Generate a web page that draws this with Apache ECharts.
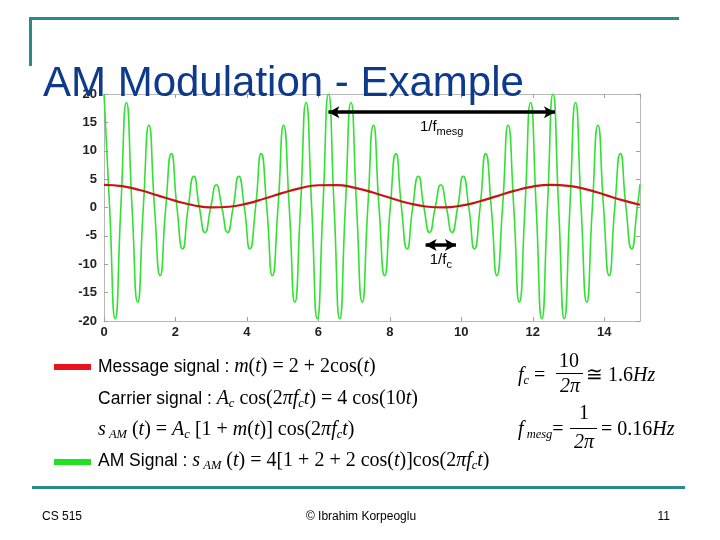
<!DOCTYPE html>
<html>
<head>
<meta charset="utf-8">
<script src="https://cdn.jsdelivr.net/npm/echarts@6.0.0/dist/echarts.min.js"></script>
<style>
  html, body { margin: 0; padding: 0; background: #fff; }
  #main { width: 720px; height: 540px; }
</style>
</head>
<body>
<div id="main"></div>
<script>
// time samples for the AM signal (peaks and zero crossings of the carrier)
var tGreen = [0, 0.157, 0.314, 0.471, 0.628, 0.785, 0.942, 1.100, 1.257, 1.414,
  1.571, 1.728, 1.885, 2.042, 2.199, 2.356, 2.513, 2.670, 2.827, 2.985,
  3.142, 3.299, 3.456, 3.613, 3.770, 3.927, 4.084, 4.241, 4.398, 4.555,
  4.712, 4.869, 5.027, 5.184, 5.341, 5.498, 5.655, 5.812, 5.969, 6.126,
  6.283, 6.440, 6.597, 6.754, 6.912, 7.069, 7.226, 7.383, 7.540, 7.697,
  7.854, 8.011, 8.168, 8.325, 8.482, 8.639, 8.796, 8.954, 9.111, 9.268,
  9.425, 9.582, 9.739, 9.896, 10.053, 10.210, 10.367, 10.524, 10.681, 10.838,
  10.996, 11.153, 11.310, 11.467, 11.624, 11.781, 11.938, 12.095, 12.252, 12.409,
  12.566, 12.723, 12.881, 13.038, 13.195, 13.352, 13.509, 13.666, 13.823, 13.980,
  14.137, 14.294, 14.451, 14.608, 14.765, 14.923, 15];
var yGreen = [20, 0, -19.6, 0, 18.5, 0, -16.7, 0, 14.5, 0,
  -12, 0, 9.5, 0, -7.3, 0, 5.5, 0, -4.4, 0,
  4, 0, -4.4, 0, 5.5, 0, -7.3, 0, 9.5, 0,
  -12, 0, 14.5, 0, -16.7, 0, 18.5, 0, -19.6, 0,
  20, 0, -19.6, 0, 18.5, 0, -16.7, 0, 14.5, 0,
  -12, 0, 9.5, 0, -7.3, 0, 5.5, 0, -4.4, 0,
  4, 0, -4.4, 0, 5.5, 0, -7.3, 0, 9.5, 0,
  -12, 0, 14.5, 0, -16.7, 0, 18.5, 0, -19.6, 0,
  20, 0, -19.6, 0, 18.5, 0, -16.7, 0, 14.5, 0,
  -12, 0, 9.5, 0, -7.3, 0, 4.1];

// message signal
var tRed = [0, 0.5, 1, 1.5, 2, 2.5, 3, 3.5, 4, 4.5, 5, 5.5, 6, 6.5, 7, 7.5,
  8, 8.5, 9, 9.5, 10, 10.5, 11, 11.5, 12, 12.5, 13, 13.5, 14, 14.5, 15];
var yRed = [4, 3.76, 3.08, 2.14, 1.17, 0.4, 0.02, 0.13, 0.69, 1.58, 2.57, 3.42, 3.92, 3.95, 3.51, 2.69,
  1.71, 0.8, 0.18, 0.01, 0.32, 1.05, 2.01, 2.97, 3.69, 4, 3.81, 3.19, 2.27, 1.29, 0.48];

// period arrows
var mesgArrow = [[6.28, 16.8], [12.62, 16.8]];
var carrierArrow = [[9.0, -6.6], [9.85, -6.6]];

var xTicks = { min: 0, max: 15, interval: 2 };
var yTicks = { min: -20, max: 20, interval: 5 };

function zip(a, b) {
  var out = [];
  for (var i = 0; i < a.length; i++) out.push([a[i], b[i]]);
  return out;
}

var teal = '#2b8b8b';
var sans = 'Liberation Sans, Arial, sans-serif';
var serif = 'Liberation Serif, Times New Roman, serif';

var mathRich = {
  s: { fontFamily: sans, fontSize: 17.5, color: '#000', lineHeight: 24 },
  i: { fontFamily: serif, fontStyle: 'italic', fontSize: 20, color: '#000', lineHeight: 24 },
  r: { fontFamily: serif, fontSize: 20, color: '#000', lineHeight: 24 },
  sub: { fontFamily: serif, fontStyle: 'italic', fontSize: 12.5, color: '#000', lineHeight: 14, padding: [10, 0, 0, 0] }
};

function mathText(x, y, text) {
  return {
    type: 'text', x: x, y: y, z: 100,
    style: { text: text, rich: mathRich, verticalAlign: 'middle', align: 'left' }
  };
}

var axisLineStyle = { color: '#b8b8b8', width: 1 };
var tickStyle = { color: '#a0a0a0', width: 1 };
var labelStyle = { fontFamily: sans, fontWeight: 'bold', fontSize: 13, color: '#222' };

var myChart = echarts.init(document.getElementById('main'));
myChart.setOption({
  backgroundColor: '#fff',
  animation: false,
  grid: { left: 104, top: 94, width: 536, height: 227 },
  xAxis: [{
    type: 'value', min: xTicks.min, max: xTicks.max, interval: xTicks.interval,
    position: 'bottom',
    axisLine: { onZero: false, lineStyle: axisLineStyle },
    axisTick: { inside: true, length: 4, lineStyle: tickStyle },
    axisLabel: Object.assign({ margin: 5, showMaxLabel: false }, labelStyle),
    splitLine: { show: false }
  }, {
    type: 'value', min: xTicks.min, max: xTicks.max, interval: xTicks.interval,
    position: 'top',
    axisLine: { onZero: false, lineStyle: axisLineStyle },
    axisTick: { inside: true, length: 4, lineStyle: tickStyle },
    axisLabel: { show: false },
    splitLine: { show: false }
  }],
  yAxis: [{
    type: 'value', min: yTicks.min, max: yTicks.max, interval: yTicks.interval,
    position: 'left',
    axisLine: { show: true, onZero: false, lineStyle: axisLineStyle },
    axisTick: { show: true, inside: true, length: 4, lineStyle: tickStyle },
    axisLabel: Object.assign({ margin: 7 }, labelStyle),
    splitLine: { show: false }
  }, {
    type: 'value', min: yTicks.min, max: yTicks.max, interval: yTicks.interval,
    position: 'right',
    axisLine: { show: true, onZero: false, lineStyle: axisLineStyle },
    axisTick: { show: true, inside: true, length: 4, lineStyle: tickStyle },
    axisLabel: { show: false },
    splitLine: { show: false }
  }],
  series: [{
    name: 'AM Signal',
    type: 'line',
    data: zip(tGreen, yGreen),
    smooth: 0.6,
    showSymbol: false,
    symbol: 'none',
    lineStyle: { color: '#33e033', width: 1.6 },
    silent: true
  }, {
    name: 'Message signal',
    type: 'line',
    data: zip(tRed, yRed),
    smooth: true,
    showSymbol: false,
    symbol: 'none',
    lineStyle: { color: '#c81414', width: 2.2 },
    silent: true,
    markLine: {
      silent: true,
      symbol: ['arrow', 'arrow'],
      symbolSize: [9, 11],
      lineStyle: { color: '#000', width: 3.5, type: 'solid' },
      data: [
        [{ coord: mesgArrow[0],
           label: { show: true, position: 'insideMiddleBottom', distance: 4,
             formatter: '{a|1/f}{b|mesg}',
             rich: {
               a: { fontFamily: sans, fontSize: 15, color: '#000', lineHeight: 22 },
               b: { fontFamily: sans, fontSize: 11, color: '#000', lineHeight: 12, padding: [10, 0, 0, 0] }
             } } },
         { coord: mesgArrow[1] }],
        [{ coord: carrierArrow[0],
           label: { show: true, position: 'insideMiddleBottom', distance: 4,
             formatter: '{a|1/f}{b|c}',
             rich: {
               a: { fontFamily: sans, fontSize: 15, color: '#000', lineHeight: 22 },
               b: { fontFamily: sans, fontSize: 11, color: '#000', lineHeight: 12, padding: [10, 0, 0, 0] }
             } } },
         { coord: carrierArrow[1] }]
      ]
    }
  }],
  graphic: [
    // slide frame
    { type: 'rect', z: 90, shape: { x: 29, y: 17, width: 650, height: 3 }, style: { fill: teal } },
    { type: 'rect', z: 90, shape: { x: 29, y: 17, width: 3, height: 49 }, style: { fill: teal } },
    { type: 'rect', z: 90, shape: { x: 32, y: 486, width: 653, height: 3 }, style: { fill: teal } },
    // title
    { type: 'text', x: 43, y: 84, z: 100,
      style: { text: 'AM Modulation - Example', font: 'normal 42px ' + sans, fill: '#0e3a8c', verticalAlign: 'middle' } },
    // legend swatches
    { type: 'rect', z: 100, shape: { x: 54, y: 364, width: 37, height: 6 }, style: { fill: '#e8141b' } },
    { type: 'rect', z: 100, shape: { x: 54, y: 459, width: 37, height: 6 }, style: { fill: '#22e022' } },
    // formulas
    mathText(98, 367, '{s|Message signal : }{i|m}{r|(}{i|t}{r|) = 2 + 2cos(}{i|t}{r|)}'),
    mathText(98, 399, '{s|Carrier signal : }{i|A}{sub|c}{r| cos(2}{i|πf}{sub|c}{i|t}{r|) = 4 cos(10}{i|t}{r|)}'),
    mathText(98, 430, '{i|s}{sub| AM}{r| (}{i|t}{r|) = }{i|A}{sub|c}{r| [1 + }{i|m}{r|(}{i|t}{r|)] cos(2}{i|πf}{sub|c}{i|t}{r|)}'),
    mathText(98, 461, '{s|AM Signal : }{i|s}{sub| AM}{r| (}{i|t}{r|) = 4[1 + 2 + 2 cos(}{i|t}{r|)]cos(2}{i|πf}{sub|c}{i|t}{r|)}'),
    // f_c
    mathText(518, 376, '{i|f}{sub|c}{r| =}'),
    { type: 'text', x: 569, y: 362, z: 100, style: { text: '10', font: '20px ' + serif, fill: '#000', align: 'center', verticalAlign: 'middle' } },
    { type: 'rect', z: 100, shape: { x: 556, y: 373, width: 27, height: 1 }, style: { fill: '#000' } },
    { type: 'text', x: 570, y: 387, z: 100, style: { text: '2π', font: 'italic 20px ' + serif, fill: '#000', align: 'center', verticalAlign: 'middle' } },
    mathText(586, 376, '{r|≅ 1.6}{i|Hz}'),
    // f_mesg
    mathText(518, 430, '{i|f}{sub| mesg}{r|=}'),
    { type: 'text', x: 584, y: 414, z: 100, style: { text: '1', font: '20px ' + serif, fill: '#000', align: 'center', verticalAlign: 'middle' } },
    { type: 'rect', z: 100, shape: { x: 570, y: 428, width: 27, height: 1 }, style: { fill: '#000' } },
    { type: 'text', x: 584, y: 443, z: 100, style: { text: '2π', font: 'italic 20px ' + serif, fill: '#000', align: 'center', verticalAlign: 'middle' } },
    mathText(601, 430, '{r|= 0.16}{i|Hz}'),
    // footer
    { type: 'text', x: 42, y: 517, z: 100, style: { text: 'CS 515', font: '12px ' + sans, fill: '#000', verticalAlign: 'middle' } },
    { type: 'text', x: 361, y: 517, z: 100, style: { text: '© Ibrahim Korpeoglu', font: '12px ' + sans, fill: '#000', align: 'center', verticalAlign: 'middle' } },
    { type: 'text', x: 670, y: 517, z: 100, style: { text: '11', font: '12px ' + sans, fill: '#000', align: 'right', verticalAlign: 'middle' } }
  ]
});
</script>
</body>
</html>
